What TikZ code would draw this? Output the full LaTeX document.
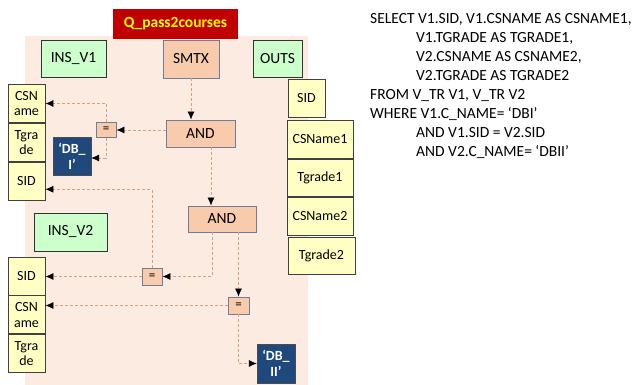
\documentclass[tikz,border=0pt]{standalone}
\usepackage{fontspec}
\setmainfont{Carlito}
\usepackage{tikz}
\usetikzlibrary{arrows.meta, positioning}

\definecolor{qred}{RGB}{192,0,0}
\definecolor{qyellow}{RGB}{255,255,0}
\definecolor{canvas}{RGB}{251,235,225}
\definecolor{insgreen}{RGB}{204,255,204}
\definecolor{opfill}{RGB}{248,203,173}
\definecolor{opdraw}{RGB}{112,124,156}
\definecolor{colfill}{RGB}{255,255,196}
\definecolor{constblue}{RGB}{31,73,125}
\definecolor{linkbrown}{RGB}{208,164,130}
\newcommand{\sqlind}{\hspace*{46pt}}

\begin{document}
\begin{tikzpicture}[
    x=1pt, y=-1pt,
    insbox/.style={draw=black!80, line width=0.9pt, fill=insgreen, minimum height=37pt,
                   inner sep=0pt, font=\fontsize{15.5}{17}\selectfont},
    opbox/.style={draw=opdraw, line width=0.9pt, fill=opfill, inner sep=0pt,
                  font=\fontsize{15.5}{17}\selectfont},
    eqbox/.style={opbox, minimum width=20pt, minimum height=15pt, font=\fontsize{13}{13}\selectfont},
    colbox/.style={draw=black!75, line width=0.9pt, fill=colfill, minimum width=37pt,
                   minimum height=38pt, inner sep=0pt, align=center, font=\fontsize{14}{15.5}\selectfont},
    constbox/.style={draw=black!70, fill=constblue, text=white, minimum width=38pt,
                     minimum height=38pt, inner sep=0pt, align=center,
                     font=\bfseries\fontsize{14}{16}\selectfont},
    link/.style={densely dashed, draw=linkbrown, line width=0.6pt,
                 -{Latex[length=8pt, width=7pt, black]}},
]
\useasboundingbox (0,0) rectangle (640,385);

% Query area
\fill[canvas] (25,36) rectangle (308,385);
\node[fill=qred, text=qyellow, minimum width=125pt, minimum height=30pt, inner sep=0pt,
      font=\bfseries\fontsize{15.5}{17}\selectfont] (title) at (175.5,24) {Q\_pass2courses};

% Top row
\node[insbox, minimum width=65pt] (insA) at (73.5,58.5)  {INS\_V1};
\node[opbox, minimum width=56pt, minimum height=38pt] (smtx) at (191,59) {SMTX};
\node[insbox, minimum width=49pt] (outs) at (277.5,58.5) {OUTS};

% Columns of V1
\node[colbox] (vAcsn) at (26.5,103.5) {CSN\\ame};
\node[colbox, below=0pt of vAcsn] (vAtg)  {Tgra\\de};
\node[colbox, below=0pt of vAtg]  (vAsid) {SID};

% Columns of V2
\node[insbox, minimum width=73pt, minimum height=38pt] (insB) at (70.5,232) {INS\_V2};
\node[colbox] (vBsid) at (26.5,276) {SID};
\node[colbox, below=0pt of vBsid] (vBcsn) {CSN\\ame};
\node[colbox, below=0pt of vBcsn] (vBtg)  {Tgra\\de};

% Output columns
\node[colbox] (oSid) at (306.5,98) {SID};
\node[colbox, minimum width=66pt, minimum height=37.5pt] (oCsA) at (320,139.5) {CSName1};
\node[colbox, minimum width=66pt, minimum height=37.5pt, below=0pt of oCsA] (oTgA) {Tgrade1};
\node[colbox, minimum width=66pt, minimum height=37.5pt, below=0pt of oTgA] (oCsB) {CSName2};
\node[colbox, minimum width=67pt, minimum height=37pt] (oTgB) at (321.5,255.5) {Tgrade2};

% Conditions
\node[opbox, minimum width=69pt, minimum height=27pt] (andA) at (200.5,133.5) {AND};
\node[opbox, minimum width=68pt, minimum height=26pt] (andB) at (222,219) {AND};
\node[eqbox] (eqA) at (106,130)   {=};
\node[eqbox, minimum height=17pt] (eqB) at (152,276.5) {=};
\node[eqbox, minimum width=21pt, minimum height=17pt] (eqC) at (238.5,305.5) {=};

% Constants
\node[constbox] (dbA) at (72,156) {‘DB\_\\I’};
\node[constbox, minimum height=39pt] (dbB) at (276,363.5) {‘DB\_\\II’};

% Links
\draw[link] (smtx) -- (smtx |- andA.north);
\draw[link] (andA.west |- eqA) -- (eqA.east);
\draw[link] (eqA.north) |- (vAcsn.east);
\draw[link] (eqA.south) |- ([yshift=-2pt]dbA.east);
\draw[link] ([xshift=10.5pt]andA.south) -- ([xshift=10.5pt]andA.south |- andB.north);
\draw[link] (eqB.north) |- ([yshift=-8pt]vAsid.east);
\draw[link] ([xshift=-10pt]andB.south) |- (eqB.east);
\draw[link] (eqB.west) -- (eqB.west -| vBsid.east);
\draw[link] (eqC |- andB.south) -- (eqC.north);
\draw[link] (eqC.west) -- (eqC.west -| vBcsn.east);
\draw[link] (eqC.south) |- (dbB.west);

% SQL text
\node[anchor=north west, align=left, inner sep=0pt,
      font=\fontsize{15.5}{19}\selectfont] (sql) at (370,13) {%
  SELECT V1.SID, V1.CSNAME AS CSNAME1,\\
  \sqlind V1.TGRADE AS TGRADE1,\\
  \sqlind V2.CSNAME AS CSNAME2,\\
  \sqlind V2.TGRADE AS TGRADE2\\
  FROM V\_TR V1, V\_TR V2\\
  WHERE V1.C\_NAME= ‘DBI’\\
  \sqlind AND V1.SID = V2.SID\\
  \sqlind AND V2.C\_NAME= ‘DBII’};
\end{tikzpicture}
\end{document}
